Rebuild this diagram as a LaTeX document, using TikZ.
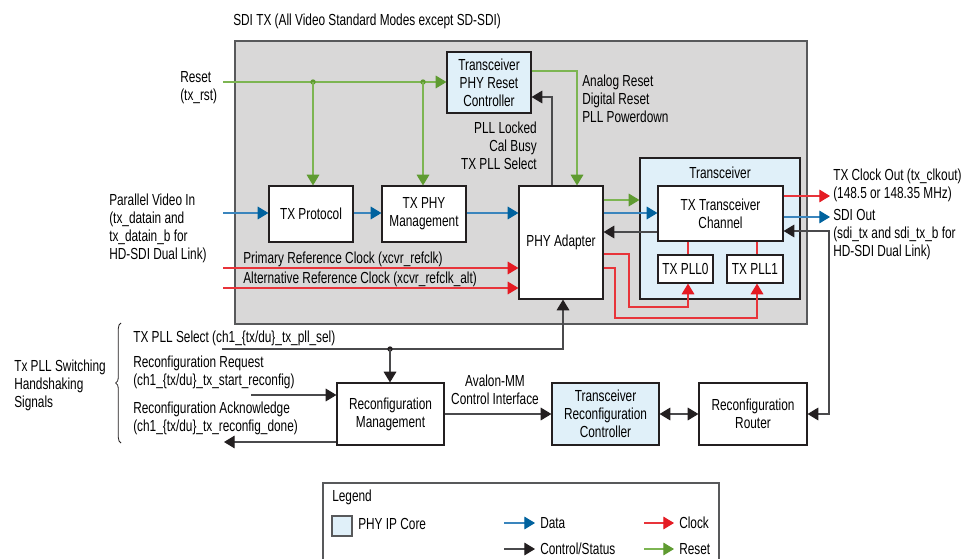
\documentclass[tikz,border=0pt]{standalone}
\usepackage{fontspec}
\setmainfont{Liberation Sans}[FakeStretch=0.74]
\usetikzlibrary{arrows.meta,decorations.pathreplacing,calc}
\definecolor{greyfill}{HTML}{D9D8D8}
\definecolor{greyline}{HTML}{58595B}
\definecolor{phyblue}{HTML}{E0F0F9}
\definecolor{boxline}{HTML}{231F20}
\definecolor{dline}{HTML}{3A85BD}
\definecolor{dhead}{HTML}{00629E}
\definecolor{cline}{HTML}{E8343A}
\definecolor{chead}{HTML}{E41B23}
\definecolor{rline}{HTML}{7DB552}
\definecolor{rhead}{HTML}{5F9B31}
\definecolor{kline}{HTML}{4A4A4C}
\definecolor{khead}{HTML}{231F20}
\tikzset{
  every node/.style={inner sep=0pt, font=\fontsize{12}{13.5}\selectfont},
  box/.style={draw=boxline, line width=0.9pt, fill=white, align=center},
  phybox/.style={box, fill=phyblue},
  dataarrow/.style={dline, line width=0.8pt, -{Triangle[length=8pt,width=9.5pt,color=dhead]}},
  clkarrow/.style={cline, line width=0.8pt, -{Triangle[length=8pt,width=9.5pt,color=chead]}},
  clkline/.style={cline, line width=0.8pt},
  rstarrow/.style={rline, line width=0.8pt, -{Triangle[length=8pt,width=9.5pt,color=rhead]}},
  ctrlarrow/.style={kline, line width=0.8pt, -{Triangle[length=8pt,width=9.5pt,color=khead]}},
  ctrlboth/.style={kline, line width=0.8pt, {Triangle[length=8pt,width=9.5pt,color=khead]}-{Triangle[length=8pt,width=9.5pt,color=khead]}},
}
\begin{document}
\begin{tikzpicture}[x=0.75pt,y=-0.75pt]
\useasboundingbox[fill=white] (0,0) rectangle (973,559);
% helper coordinates
\coordinate (y71) at (0,71);
\coordinate (y97) at (0,97);
\coordinate (y200) at (0,200);
\coordinate (y232) at (0,232);
\coordinate (y231) at (0,231);
\coordinate (y254) at (0,254);
\coordinate (y268) at (0,268);
\coordinate (x577) at (577,0);
\coordinate (x552) at (552,0);
\coordinate (x563) at (563,0);
\coordinate (x688) at (688,0);
\coordinate (x757) at (757,0);

% main grey block
\node[draw=greyline, fill=greyfill, line width=0.9pt, minimum width=429pt, minimum height=212.25pt] (sditx) at (521,182.5) {};
\node[anchor=west] (title) at (233,21) {SDI TX (All Video Standard Modes except SD-SDI)};

% blocks
\node[phybox, minimum width=63pt, minimum height=45.75pt] (rst) at (489,82.5) {Transceiver\\PHY Reset\\Controller};
\node[box, minimum width=63pt, minimum height=42pt] (txp) at (311,214) {TX Protocol};
\node[box, minimum width=63pt, minimum height=42pt] (mgmt) at (424,214) {TX PHY\\Management};
\node[box, minimum width=63pt, minimum height=84.75pt] (phy) at (561,242.5) {PHY Adapter};
\node[phybox, minimum width=120pt, minimum height=105.75pt] (xcvr) at (720,228.5) {};
\node (xlbl) at (720,173) {Transceiver};
\node[box, minimum width=93.75pt, minimum height=41.25pt] (ch) at (720.5,213.5) {TX Transceiver\\Channel};
\node[box, minimum width=41.25pt, minimum height=21pt] (pll0) at (685.5,269) {TX PLL0};
\node[box, minimum width=42pt, minimum height=21pt] (pll1) at (755,269) {TX PLL1};
\node[box, minimum width=80.25pt, minimum height=46.5pt] (rcm) at (390.5,414) {Reconfiguration\\Management};
\node[phybox, minimum width=80.25pt, minimum height=46.5pt] (trc) at (605.5,414) {Transceiver\\Reconfiguration\\Controller};
\node[box, minimum width=81pt, minimum height=46.5pt] (rr) at (753,414) {Reconfiguration\\Router};

% labels
\node[anchor=west, align=left] (rstlbl) at (180,88) {Reset\\(tx\_rst)};
\node[anchor=west, align=left] (pvi) at (109,228.5) {Parallel Video In\\(tx\_datain and\\tx\_datain\_b for\\HD-SDI Dual Link)};
\node[anchor=west] (prl) at (243,259) {Primary Reference Clock (xcvr\_refclk)};
\node[anchor=west] (alt) at (243,279) {Alternative Reference Clock (xcvr\_refclk\_alt)};
\node[anchor=east, align=right] (stat) at (537,145.5) {PLL Locked\\Cal Busy\\TX PLL Select};
\node[anchor=west, align=left] (rsts) at (582,99) {Analog Reset\\Digital Reset\\PLL Powerdown};
\node[anchor=west, align=left] (clkt) at (833,185.5) {TX Clock Out (tx\_clkout)\\(148.5 or 148.35 MHz)};
\node[anchor=west, align=left] (sdit) at (833,235) {SDI Out\\(sdi\_tx and sdi\_tx\_b for\\HD-SDI Dual Link)};
\node[anchor=west] (pselt) at (133,338) {TX PLL Select (ch1\_\{tx/du\}\_tx\_pll\_sel)};
\node[anchor=west, align=left] (reqt) at (133,372.5) {Reconfiguration Request\\(ch1\_\{tx/du\}\_tx\_start\_reconfig)};
\node[anchor=west, align=left] (ackt) at (133,418) {Reconfiguration Acknowledge\\(ch1\_\{tx/du\}\_tx\_reconfig\_done)};
\node[anchor=west, align=left] (hs) at (14,385) {Tx PLL Switching\\Handshaking\\Signals};
\node[align=center] (av) at (495,390) {Avalon-MM\\Control Interface};
\draw[boxline, line width=0.6pt, decorate, decoration={brace, amplitude=4pt}] (121,443) -- (121,323);

% reset connectors
\coordinate (rin) at (223,82);
\coordinate (d1) at (313,82);
\coordinate (d2) at (423,82);
\draw[rstarrow] (rin) -- (rst.west |- rin);
\fill[rhead] (d1) circle (2pt);
\fill[rhead] (d2) circle (2pt);
\draw[rstarrow] (d1) -- (d1 |- txp.north);
\draw[rstarrow] (d2) -- (d2 |- mgmt.north);
\draw[rstarrow] (rst.east |- y71) -| (phy.north -| x577);
\draw[ctrlarrow] (phy.north -| x552) |- (rst.east |- y97);

% data path
\coordinate (pin) at (223,213);
\draw[dataarrow] (pin) -- (txp.west |- pin);
\draw[dataarrow] (txp.east |- pin) -- (mgmt.west |- pin);
\draw[dataarrow] (mgmt.east |- pin) -- (phy.west |- pin);
\draw[rstarrow] (phy.east |- y200) -- (xcvr.west |- y200);
\draw[dataarrow] (phy.east |- pin) -- (ch.west |- pin);
\draw[ctrlarrow] (ch.west |- y232) -- (phy.east |- y232);

% clocks
\coordinate (ck1) at (223,268);
\coordinate (ck2) at (223,288);
\draw[clkarrow] (ck1) -- (phy.west |- ck1);
\draw[clkarrow] (ck2) -- (phy.west |- ck2);
\draw[clkarrow] (phy.east |- y254) -- (629,254) -- (629,307) -- (688,307) -- (pll0.south -| x688);
\draw[clkarrow] (phy.east |- y268) -- (615,268) -- (615,318) -- (757,318) -- (pll1.south -| x757);
\draw[clkline] (ch.south -| x688) -- (pll0.north -| x688);
\draw[clkline] (ch.south -| x757) -- (pll1.north -| x757);

% outputs
\coordinate (clkout) at (830,196);
\coordinate (sdiout) at (830,217);
\draw[clkarrow] (ch.east |- clkout) -- (clkout);
\draw[dataarrow] (ch.east |- sdiout) -- (sdiout);
\draw[ctrlboth] (ch.east |- y231) -- (829,231) -- (829,414) -- (rr.east);

% reconfiguration
\coordinate (psel) at (222,349);
\coordinate (d3) at (390,349);
\draw[ctrlarrow] (psel) -| (phy.south -| x563);
\fill[khead] (d3) circle (2pt);
\draw[ctrlarrow] (d3) -- (rcm.north -| d3);
\coordinate (req) at (251,395);
\coordinate (ack) at (224,442);
\draw[ctrlarrow] (req) -- (rcm.west |- req);
\draw[ctrlarrow] (rcm.west |- ack) -- (ack);
\draw[ctrlarrow] (rcm) -- (trc);
\draw[ctrlboth] (trc) -- (rr);

% legend
\draw[greyline, line width=0.8pt] (323,570) -- (323,483) -- (719,483) -- (719,570);
\node[anchor=west] (lgt) at (332,497) {Legend};
\node[draw=greyline, fill=phyblue, line width=0.8pt, minimum size=15pt] (sw) at (342,526) {};
\node[anchor=west] (lphy) at (358,524) {PHY IP Core};
\node[anchor=west] (ldata) at (540,523) {Data};
\node[anchor=west] (lctrl) at (540,549) {Control/Status};
\node[anchor=west] (lclk) at (679,523) {Clock};
\node[anchor=west] (lrst) at (679,549) {Reset};
\coordinate (la1) at (504,523); \coordinate (lb1) at (535,523);
\coordinate (la2) at (504,549); \coordinate (lb2) at (535,549);
\coordinate (la3) at (644,523); \coordinate (lb3) at (674,523);
\coordinate (la4) at (644,549); \coordinate (lb4) at (674,549);
\draw[dataarrow] (la1) -- (lb1);
\draw[ctrlarrow] (la2) -- (lb2);
\draw[clkarrow] (la3) -- (lb3);
\draw[rstarrow] (la4) -- (lb4);
\end{tikzpicture}
\end{document}
